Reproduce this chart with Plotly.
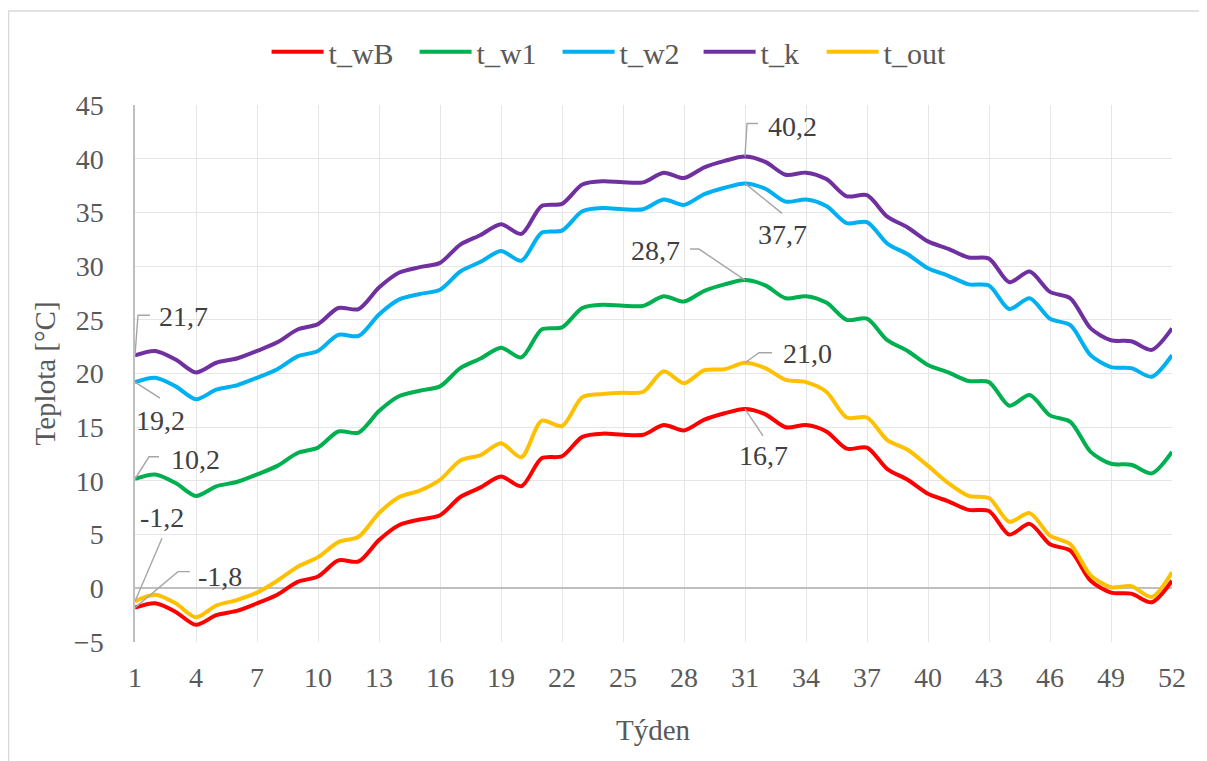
import plotly.graph_objects as go

weeks = list(range(1, 53))

t_wB = [-1.8, -1.4, -2.2, -3.4, -2.5, -2.1, -1.4, -0.6, 0.6, 1.1, 2.6, 2.5, 4.5, 5.9, 6.4, 6.8,
        8.5, 9.4, 10.4, 9.5, 12.1, 12.3, 14.1, 14.4, 14.3, 14.3, 15.2, 14.7, 15.7, 16.3, 16.7, 16.2,
        15.0, 15.2, 14.6, 13.0, 13.1, 11.1, 10.1, 8.8, 8.1, 7.3, 7.2, 5.0, 6.0, 4.1, 3.5, 0.7,
        -0.4, -0.5, -1.3, 0.7]
t_w1 = [10.2, 10.6, 9.8, 8.6, 9.5, 9.9, 10.6, 11.4, 12.6, 13.1, 14.6, 14.5, 16.5, 17.9, 18.4, 18.8,
        20.5, 21.4, 22.4, 21.5, 24.1, 24.3, 26.1, 26.4, 26.3, 26.3, 27.2, 26.7, 27.7, 28.3, 28.7, 28.2,
        27.0, 27.2, 26.6, 25.0, 25.1, 23.1, 22.1, 20.8, 20.1, 19.3, 19.2, 17.0, 18.0, 16.1, 15.5, 12.7,
        11.6, 11.5, 10.7, 12.7]
t_w2 = [19.2, 19.6, 18.8, 17.6, 18.5, 18.9, 19.6, 20.4, 21.6, 22.1, 23.6, 23.5, 25.5, 26.9, 27.4, 27.8,
        29.5, 30.4, 31.4, 30.5, 33.1, 33.3, 35.1, 35.4, 35.3, 35.3, 36.2, 35.7, 36.7, 37.3, 37.7, 37.2,
        36.0, 36.2, 35.6, 34.0, 34.1, 32.1, 31.1, 29.8, 29.1, 28.3, 28.2, 26.0, 27.0, 25.1, 24.5, 21.7,
        20.6, 20.5, 19.7, 21.7]
t_k = [21.7, 22.1, 21.3, 20.1, 21.0, 21.4, 22.1, 22.9, 24.1, 24.6, 26.1, 26.0, 28.0, 29.4, 29.9, 30.3,
       32.0, 32.9, 33.9, 33.0, 35.6, 35.8, 37.6, 37.9, 37.8, 37.8, 38.7, 38.2, 39.2, 39.8, 40.2, 39.7,
       38.5, 38.7, 38.1, 36.5, 36.6, 34.6, 33.6, 32.3, 31.6, 30.8, 30.7, 28.5, 29.5, 27.6, 27.0, 24.2,
       23.1, 23.0, 22.2, 24.2]
t_out = [-1.2, -0.6, -1.4, -2.7, -1.6, -1.1, -0.4, 0.7, 2.0, 2.9, 4.3, 4.8, 7.0, 8.5, 9.1, 10.1,
         11.9, 12.4, 13.5, 12.2, 15.6, 15.1, 17.8, 18.1, 18.2, 18.3, 20.2, 19.1, 20.3, 20.4, 21.0, 20.5,
         19.4, 19.2, 18.3, 15.9, 15.9, 13.8, 12.9, 11.4, 9.8, 8.6, 8.4, 6.2, 7.0, 4.9, 4.1, 1.2,
         0.1, 0.2, -0.8, 1.5]

series_names = ["t_wB", "t_w1", "t_w2", "t_k", "t_out"]
series_values = [t_wB, t_w1, t_w2, t_k, t_out]
series_colors = ["#FF0000", "#00B050", "#00B0F0", "#7030A0", "#FFC000"]
legend_widths = [81, 76, 74, 56, 73]

x_ticks = list(range(1, 53, 3))

# labelled points: (series index, week, label offset px (right, up), leader polyline px (right, up))
label_points = [
    (3, 1, (48, 39), [(0, 0), (3, 40), (15, 40)]),
    (2, 1, (25, -38), [(0, 0), (25, -16)]),
    (1, 1, (60, 19), [(0, 0), (14, 22), (24, 22)]),
    (4, 1, (27, 84), [(0, 0), (27, 63)]),
    (0, 1, (85, 31), [(0, 0), (43, 36), (55, 36)]),
    (3, 31, (47, 30), [(0, 0), (2, 33), (13, 33)]),
    (2, 31, (37, -51), [(0, 0), (37, -30)]),
    (1, 31, (-90, 30), [(0, 0), (-46, 31), (-55, 31)]),
    (4, 31, (62, 9), [(0, 0), (14, 10), (27, 10)]),
    (0, 31, (18, -47), [(0, 0), (18, -27)]),
]

FONT = '"Liberation Serif", "Times New Roman", serif'
TXT = "#595959"

fig = go.Figure()
for name, vals, col, lw in zip(series_names, series_values, series_colors, legend_widths):
    fig.add_trace(go.Scatter(
        x=weeks, y=vals, name=name, mode="lines", legendwidth=lw,
        line=dict(color=col, width=4, shape="spline", smoothing=0.8),
        hoverinfo="x+y+name",
    ))

for si, wk, (lx, ly), leader in label_points:
    val = series_values[si][wk - 1]
    path = "M" + " L".join(f"{px},{py}" for px, py in leader)
    fig.add_shape(type="path", xref="x", yref="y", xsizemode="pixel", ysizemode="pixel",
                  xanchor=wk, yanchor=val, path=path,
                  line=dict(color="#A6A6A6", width=1.4), layer="above")
    fig.add_annotation(
        x=wk, y=val, text=f"{val:.1f}".replace(".", ","), showarrow=False,
        xshift=lx, yshift=ly, xanchor="center", yanchor="middle",
        font=dict(family=FONT, size=28, color="#404040"),
    )

# axis titles
fig.add_annotation(text="Týden", xref="paper", yref="paper", x=0.5, y=-0.164,
                   xanchor="center", yanchor="middle", showarrow=False,
                   font=dict(family=FONT, size=29, color=TXT))
fig.add_annotation(text="Teplota [°C]", xref="paper", yref="paper", x=-0.0868, y=0.5,
                   xanchor="center", yanchor="middle", textangle=-90, showarrow=False,
                   font=dict(family=FONT, size=29, color=TXT))

fig.update_layout(
    width=1199, height=753,
    margin=dict(l=127, r=35, t=97, b=119),
    paper_bgcolor="white", plot_bgcolor="white",
    font=dict(family=FONT, size=28, color=TXT),
    legend=dict(orientation="h", x=0.462, xanchor="center", y=1.099, yanchor="middle",
                font=dict(family=FONT, size=30, color=TXT), bgcolor="rgba(0,0,0,0)",
                itemwidth=52, entrywidthmode="pixels", tracegroupgap=0),
    showlegend=True,
)
fig.update_xaxes(
    range=[1, 52], tickmode="array", tickvals=x_ticks, ticktext=[str(t) for t in x_ticks],
    showgrid=True, gridcolor="#E6E6E6", gridwidth=1, zeroline=False, showline=False,
    ticks="", ticklabelstandoff=16,
    tickfont=dict(family=FONT, size=28, color=TXT),
)
fig.update_yaxes(
    range=[-5, 45], dtick=5, tick0=0,
    showgrid=True, gridcolor="#E6E6E6", gridwidth=1,
    zeroline=True, zerolinecolor="#BFBFBF", zerolinewidth=1.5,
    showline=True, linecolor="#BFBFBF", linewidth=1.5,
    ticks="outside", ticklen=24, tickcolor="rgba(0,0,0,0)",
    tickfont=dict(family=FONT, size=28, color=TXT),
)

# chart-area border
fig.add_shape(type="rect", xref="paper", yref="paper",
              x0=-0.122, x1=1.0318, y0=-0.225, y1=1.175,
              line=dict(color="#D9D9D9", width=1.5), fillcolor="rgba(0,0,0,0)", layer="below")

fig.write_html("out.html")
